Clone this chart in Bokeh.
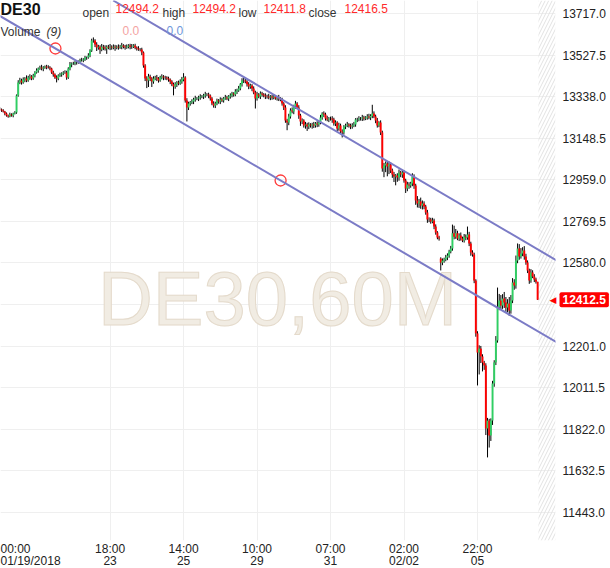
from bokeh.plotting import figure
from bokeh.models import Range1d, FixedTicker, PrintfTickFormatter, Label, Slope
from bokeh.embed import file_html
from bokeh.resources import INLINE

FONT = "Liberation Sans"

# ---------------- data (hourly DE30 bars) ----------------
closes = [
    13280, 13275, 13270, 13261, 13252, 13248, 13257, 13252, 13261, 13266,
    13343, 13403, 13412, 13403, 13416, 13421, 13412, 13425, 13430, 13421,
    13434, 13448, 13457, 13466, 13471, 13466, 13471, 13475, 13471, 13471,
    13466, 13448, 13439, 13425, 13421, 13434, 13439, 13444, 13448, 13448,
    13425, 13466, 13484, 13489, 13489, 13494, 13494, 13498, 13503, 13503,
    13507, 13516, 13516, 13526, 13548, 13594, 13594, 13576, 13562, 13566,
    13553, 13566, 13562, 13558, 13566, 13562, 13566, 13562, 13566, 13562,
    13566, 13562, 13566, 13571, 13566, 13562, 13566, 13571, 13566, 13566,
    13571, 13562, 13558, 13553, 13553, 13539, 13480, 13421, 13412, 13430,
    13421, 13407, 13421, 13425, 13421, 13412, 13425, 13430, 13425, 13425,
    13421, 13416, 13407, 13394, 13384, 13394, 13403, 13398, 13407, 13416,
    13425, 13321, 13289, 13307, 13312, 13316, 13325, 13330, 13330, 13334,
    13339, 13339, 13343, 13348, 13348, 13343, 13330, 13307, 13298, 13307,
    13321, 13316, 13325, 13321, 13330, 13334, 13330, 13339, 13343, 13352,
    13348, 13362, 13366, 13375, 13394, 13412, 13412, 13407, 13394, 13384,
    13389, 13375, 13357, 13330, 13348, 13339, 13352, 13348, 13343, 13339,
    13339, 13334, 13339, 13334, 13339, 13330, 13334, 13330, 13325, 13307,
    13289, 13229, 13220, 13248, 13275, 13270, 13293, 13307, 13289, 13252,
    13225, 13229, 13207, 13211, 13202, 13211, 13207, 13211, 13207, 13216,
    13211, 13220, 13243, 13261, 13257, 13239, 13234, 13239, 13239, 13234,
    13216, 13220, 13193, 13207, 13179, 13175, 13202, 13207, 13211, 13207,
    13202, 13207, 13211, 13234, 13234, 13239, 13239, 13243, 13239, 13243,
    13248, 13243, 13250, 13261, 13248, 13229, 13207, 13220, 13175, 13011,
    13024, 13033, 13020, 13029, 13002, 12983, 12974, 12979, 12970, 12992,
    12983, 12992, 12956, 12919, 12938, 12933, 12942, 12974, 12933, 12865,
    12851, 12860, 12842, 12851, 12837, 12810, 12778, 12778, 12769, 12774,
    12746, 12719, 12696, 12692, 12582, 12591, 12596, 12605, 12614, 12632,
    12646, 12715, 12700, 12715, 12692, 12705, 12692, 12683, 12700, 12696,
    12710, 12669, 12628, 12619, 12500, 12259, 12172, 12190, 12154, 12126,
    12113, 11826, 11862, 11794, 11862, 12031, 12127, 12227, 12377, 12409,
    12386, 12418, 12400, 12377, 12395, 12364, 12409, 12491, 12478, 12591,
    12646, 12610, 12623, 12637, 12610, 12582, 12546, 12500, 12537, 12519,
    12505, 12494.2, 12412.5,
]
upper_wick = [
    5, 4, 6, 3, 5, 4, 8, 5, 4, 6,
    5, 10, 12, 8, 10, 6, 14, 8, 10, 6,
    8, 6, 10, 5, 8, 12, 6, 5, 8, 10,
    6, 4, 8, 5, 10, 6, 8, 5, 6, 10,
    8, 6, 12, 5, 8, 6, 10, 5, 8, 12,
    6, 8, 5, 10, 6, 8, 14, 6, 10, 8,
    6, 12, 8, 10, 6, 8, 12, 6, 10, 8,
    6, 10, 8, 12, 6, 8, 10, 6, 8, 12,
    6, 8, 5, 10, 6, 8, 5, 6, 10, 12,
    8, 6, 10, 8, 12, 6, 8, 10, 6, 8,
    6, 8, 5, 6, 8, 10, 6, 8, 10, 12,
    20, 6, 10, 8, 6, 10, 8, 12, 6, 8,
    10, 6, 8, 12, 6, 8, 5, 6, 10, 8,
    8, 6, 10, 8, 6, 12, 8, 6, 10, 8,
    6, 10, 8, 12, 6, 10, 14, 8, 6, 10,
    8, 6, 10, 8, 12, 6, 10, 8, 6, 10,
    8, 12, 6, 8, 10, 6, 8, 12, 6, 8,
    6, 10, 8, 12, 10, 14, 8, 12, 6, 10,
    8, 10, 6, 12, 8, 10, 6, 8, 12, 6,
    10, 8, 12, 6, 10, 8, 12, 6, 8, 10,
    8, 10, 6, 12, 8, 10, 6, 8, 12, 6,
    8, 10, 12, 6, 8, 10, 6, 12, 8, 6,
    10, 12, 8, 40, 10, 8, 12, 6, 10, 8,
    12, 10, 8, 14, 10, 8, 12, 6, 10, 14,
    8, 12, 10, 8, 12, 10, 8, 15, 10, 8,
    20, 12, 18, 14, 10, 8, 12, 10, 8, 12,
    8, 10, 6, 8, 6, 10, 8, 12, 10, 8,
    12, 40, 35, 20, 12, 10, 14, 8, 12, 10,
    36, 12, 8, 10, 8, 6, 10, 15, 12, 10,
    8, 10, 12, 8, 10, 12, 10, 20, 91, 30,
    25, 20, 30, 25, 20, 30, 25, 20, 15, 23,
    23, 20, 25, 15, 20, 12, 10, 8, 15, 10,
    10, 8, 0,
]
lower_wick = [
    5, 6, 4, 8, 5, 6, 4, 5, 8, 4,
    6, 5, 8, 10, 6, 12, 8, 6, 10, 8,
    6, 8, 5, 10, 6, 8, 12, 6, 8, 5,
    8, 6, 10, 6, 18, 8, 6, 10, 8, 6,
    10, 6, 8, 12, 6, 8, 10, 6, 8, 5,
    8, 6, 10, 5, 8, 6, 10, 12, 16, 10,
    20, 8, 12, 10, 25, 8, 12, 10, 8, 15,
    8, 10, 6, 12, 8, 10, 6, 8, 12, 10,
    6, 8, 10, 6, 8, 12, 10, 12, 35, 30,
    12, 25, 10, 8, 12, 10, 6, 8, 12, 10,
    8, 10, 12, 8, 40, 10, 12, 8, 6, 10,
    8, 10, 64, 12, 10, 8, 12, 10, 8, 12,
    10, 8, 12, 10, 8, 12, 10, 8, 10, 12,
    8, 10, 12, 8, 10, 6, 8, 12, 10, 8,
    10, 8, 12, 6, 8, 10, 12, 8, 10, 12,
    10, 12, 8, 46, 10, 8, 12, 10, 8, 12,
    10, 8, 12, 10, 8, 6, 10, 12, 8, 10,
    12, 10, 35, 12, 10, 8, 12, 10, 8, 15,
    20, 12, 10, 15, 20, 12, 10, 15, 12, 10,
    12, 10, 8, 10, 12, 10, 8, 12, 10, 15,
    10, 12, 15, 10, 12, 23, 10, 12, 8, 10,
    12, 10, 8, 10, 12, 8, 10, 12, 10, 8,
    10, 8, 12, 10, 8, 12, 10, 8, 12, 15,
    40, 30, 45, 35, 12, 15, 25, 40, 20, 15,
    12, 15, 10, 20, 12, 15, 10, 12, 15, 20,
    18, 20, 15, 18, 12, 10, 15, 12, 10, 8,
    12, 10, 8, 10, 36, 12, 10, 8, 12, 10,
    8, 10, 12, 10, 8, 12, 10, 8, 10, 12,
    10, 12, 15, 10, 12, 15, 150, 100, 30, 40,
    20, 30, 132, 55, 25, 20, 15, 12, 10, 12,
    20, 15, 25, 20, 22, 25, 15, 12, 20, 15,
    12, 15, 10, 12, 15, 10, 12, 15, 10, 8,
    12, 8, 0.7,
]
first_open = 13285.0
gap_opens = {264: 12600.0}          # Monday 02/05 open after the weekend gap

time_tick_bars = [66, 110, 154, 198, 242, 286]
time_tick_labels = ["18:00\n23", "14:00\n25", "10:00\n29", "07:00\n31", "02:00\n02/02", "22:00\n05"]
first_time_label = "00:00\n01/19/2018"

price_grid = [11443.0, 11632.5, 11822.0, 12011.5, 12201.0, 12390.5, 12580.0,
              12769.5, 12959.0, 13148.5, 13338.0, 13527.5, 13717.0]
price_ticks = [11443.0, 11632.5, 11822.0, 12011.5, 12201.0, 12580.0,
               12769.5, 12959.0, 13148.5, 13338.0, 13527.5, 13717.0]
last_price = 12412.5

header_title = "DE30"
header_fields = ["open", "high", "low", "close"]
header_values = ["12494.2", "12494.2", "12411.8", "12416.5"]
volume_values = ["0.0", "0.0"]

anchor_bars = [33.3, 168.1]          # channel trend line anchor points
anchor_prices = [13557.5, 12956.0]
channel_width = 373.0

# ---------------- derived ----------------
n = len(closes)
bars = list(range(n))
opens = [first_open] + closes[:-1]
for k, v in gap_opens.items():
    opens[k] = v
tops = [max(o, c) for o, c in zip(opens, closes)]
bots = [min(o, c) for o, c in zip(opens, closes)]
highs = [t + h for t, h in zip(tops, upper_wick)]
lows = [b - l for b, l in zip(bots, lower_wick)]
colors = ["#2fcf63" if c >= o else "#ff0000" for o, c in zip(opens, closes)]

X0, X1 = 0.4, 332.7
Y0, Y1 = 11315.4, 13776.2
FW, FH = 555, 540
bar_px = FW / (X1 - X0)
price_px = (Y1 - Y0) / FH

p = figure(frame_width=FW, frame_height=FH, x_range=Range1d(X0, X1), y_range=Range1d(Y0, Y1),
           y_axis_location="right", toolbar_location=None, output_backend="svg",
           min_border_left=0, min_border_top=0, min_border_right=55, min_border_bottom=28,
           outline_line_color=None, background_fill_color="white", border_fill_color="white")

p.xgrid.ticker = FixedTicker(ticks=time_tick_bars)
p.ygrid.ticker = FixedTicker(ticks=price_grid)
p.grid.grid_line_color = "#efefef"
p.grid.grid_line_width = 1

xa = p.xaxis[0]
xa.ticker = FixedTicker(ticks=time_tick_bars)
xa.major_label_overrides = {b: t for b, t in zip(time_tick_bars, time_tick_labels)}
ya = p.yaxis[0]
ya.ticker = FixedTicker(ticks=price_ticks)
ya.formatter = PrintfTickFormatter(format="%.1f")
for ax in (xa, ya):
    ax.axis_line_color = None
    ax.major_tick_line_color = None
    ax.minor_tick_line_color = None
    ax.major_tick_out = 0
    ax.major_tick_in = 0
    ax.major_label_text_font = FONT
    ax.major_label_text_font_size = "12px"
    ax.major_label_text_color = "#222222"
xa.major_label_standoff = 1
xa.major_label_text_line_height = 0.88
ya.major_label_standoff = 7

# watermark
p.add_layout(Label(x=277, y=FH - 298, x_units="screen", y_units="screen", text="DE30,60M",
                   text_font=FONT, text_font_size="76px", text_color="#f1ece3",
                   text_outline_color="#e4dacb", text_align="center",
                   text_baseline="alphabetic", level="underlay"))

# future-area hatch
p.quad(left=[n - 0.5], right=[X1], bottom=[Y0], top=[Y1], fill_color=None, line_color=None,
       hatch_pattern="/", hatch_color="#e2e2e2", hatch_scale=7, hatch_weight=1)

# candles
p.segment(x0=bars, y0=highs, x1=bars, y1=lows, line_color="black", line_width=1)
p.vbar(x=bars, width=1.15, top=tops, bottom=bots, fill_color=colors, line_color=None)

# channel
g = (anchor_prices[1] - anchor_prices[0]) / (anchor_bars[1] - anchor_bars[0])
b0 = anchor_prices[0] - g * anchor_bars[0]
p.add_layout(Slope(gradient=g, y_intercept=b0, line_color="#7b7bc6", line_width=2))
p.add_layout(Slope(gradient=g, y_intercept=b0 + channel_width, line_color="#7b7bc6", line_width=2))
p.scatter(anchor_bars, anchor_prices, marker="circle", size=11, fill_color=None,
          line_color="#ff3b3b", line_width=1.3)

# header
def lab(x, ypx, text, size="12px", color="#333333", style="normal", **kw):
    p.add_layout(Label(x=x, y=FH - ypx, x_units="screen", y_units="screen", text=text,
                       text_font=FONT, text_font_size=size, text_color=color,
                       text_font_style=style, text_baseline="middle", **kw))

lab(0, 9, header_title, size="16px", color="#111111", style="bold")
for fx, vx, f, v in zip([82, 162, 238, 308], [115, 192, 263, 344], header_fields, header_values):
    lab(fx, 12, f)
    lab(vx, 8, v, color="#ff2a2a")
lab(0, 31, "Volume")
lab(46, 31, "(9)", style="italic")
lab(122, 30, volume_values[0], color="#f4a3a3")
lab(166, 30, volume_values[1], color="#7096da")

# labels living outside the frame: placed in side panels, positioned in data units
p.add_layout(Label(x=X0, y=Y0 - 1 * price_px, text=first_time_label,
                   text_font=FONT, text_font_size="12px", text_color="#222222",
                   text_align="left", text_baseline="top", text_line_height=0.88), "below")
p.add_layout(Label(x=X1 - 6 / bar_px, y=last_price, text="\u25c0",
                   text_font="DejaVu Sans", text_font_size="9px", text_color="#ff0000",
                   text_baseline="middle", text_align="left"), "right")
p.add_layout(Label(x=X1 + 4 / bar_px, y=last_price, text=f"{last_price:.1f}",
                   text_font=FONT, text_font_size="12px", text_color="white", text_font_style="bold",
                   background_fill_color="#ff0000", text_baseline="middle", text_align="left",
                   padding=3, border_radius=2), "right")

open("out.html", "w").write(file_html(p, INLINE))
